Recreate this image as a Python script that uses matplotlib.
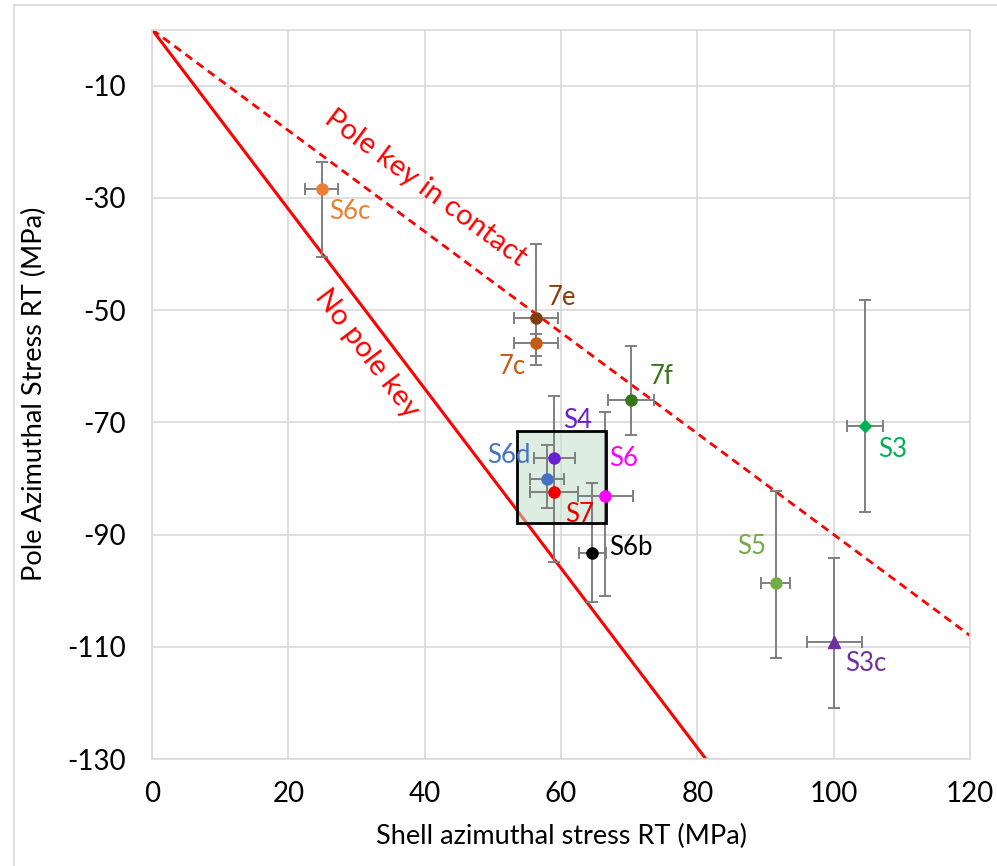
import numpy as np
import matplotlib.pyplot as plt
from matplotlib.patches import Rectangle
from matplotlib.lines import Line2D

plt.rcParams['font.family'] = ['Lato', 'DejaVu Sans']
plt.rcParams['axes.unicode_minus'] = False

# sample data
names = ['S6c', '7e', '7c', '7f', 'S4', 'S6d', 'S6', 'S7', 'S6b', 'S3', 'S5', 'S3c']
shell = [24.9, 56.3, 56.3, 70.3, 59.0, 57.9, 66.5, 59.0, 64.6, 104.6, 91.5, 100.1]
pole = [-28.4, -51.4, -55.9, -66.0, -76.3, -80.1, -83.1, -82.4, -93.3, -70.7, -98.6, -109.1]
shell_err = [2.4, 3.2, 3.2, 3.4, 3.0, 2.5, 4.0, 3.5, 2.0, 2.6, 2.1, 4.0]
pole_err_low = [12.2, 8.4, 2.3, 6.3, 18.6, 5.2, 17.9, 0.0, 8.7, 15.3, 13.4, 11.9]
pole_err_up = [4.8, 13.2, 1.7, 9.6, 11.0, 6.0, 15.0, 0.0, 12.4, 22.5, 16.4, 15.0]
colors = ['#ED7D31', '#843C0C', '#C55A11', '#38761D', '#6A1FD0', '#4472C4',
          '#FF00FF', '#EE0000', '#000000', '#00B050', '#70AD47', '#7030A0']
markers = ['o'] * 9 + ['D', 'o', '^']

# limit lines (slopes)
slope_no_key = -1.6
slope_contact = -0.9

# highlighted region
box_x = [53.5, 66.6]
box_y = [-88.0, -71.6]

# label offsets in points (dx, dy)
label_off = {'S6c': (20, -16), '7e': (19, 15), '7c': (-17, -17), '7f': (22, 17),
             'S4': (17, 27), 'S6d': (-27, 17), 'S6': (13, 27), 'S7': (18, -16),
             'S6b': (28, 4), 'S3': (20, -17), 'S5': (-17, 26), 'S3c': (23, -16)}

fig = plt.figure(figsize=(9.97, 8.66), dpi=100)
ax = fig.add_axes([152 / 997, 1 - 759 / 866, 818 / 997, 729.5 / 866])

ax.set_xlim(0, 120)
ax.set_ylim(-130, 0)
ax.set_xticks(np.arange(0, 121, 20))
ax.set_yticks(np.arange(-130, -9, 20))
ax.grid(True, color='#D9D9D9', linewidth=1.2, zorder=0)
ax.set_axisbelow(True)
for s in ax.spines.values():
    s.set_color('#D9D9D9')
    s.set_linewidth(1.2)
ax.tick_params(length=0, labelsize=20, colors='#000000')
ax.tick_params(axis='y', pad=19)
ax.tick_params(axis='x', pad=16)

xs = np.array([0, 120])
ax.plot(xs, slope_no_key * xs, color='#FF0000', lw=2.2, zorder=2)
ax.plot(xs, slope_contact * xs, color='#FF0000', lw=2.0, ls=(0, (3, 2)), zorder=2)

ax.add_patch(Rectangle((box_x[0], box_y[0]), box_x[1] - box_x[0], box_y[1] - box_y[0],
                       facecolor='#C3DFCB', alpha=0.55, edgecolor='none', zorder=2))
ax.add_patch(Rectangle((box_x[0], box_y[0]), box_x[1] - box_x[0], box_y[1] - box_y[0],
                       facecolor='none', edgecolor='black', lw=2, zorder=5))

for i, n in enumerate(names):
    ax.errorbar(shell[i], pole[i], xerr=shell_err[i],
                yerr=[[pole_err_low[i]], [pole_err_up[i]]],
                fmt='none', ecolor='#7F7F7F', elinewidth=1.4, capsize=4, capthick=1.4, zorder=3)
    ms = 8 if markers[i] == 'o' else (6 if markers[i] == 'D' else 9)
    ax.plot(shell[i], pole[i], marker=markers[i], ms=ms, color=colors[i], ls='none', zorder=6)
    ax.annotate(n, (shell[i], pole[i]), xytext=label_off[n], textcoords='offset points',
                ha='center', va='center', fontsize=18.5, color=colors[i], zorder=7)

ax.text(40.1, -28.3, 'Pole key in contact', color='#FF0000', fontsize=21,
        rotation=np.degrees(np.arctan(slope_contact)), transform_rotates_text=True,
        rotation_mode='anchor', ha='center', va='center')
ax.text(31.6, -57.7, 'No pole key', color='#FF0000', fontsize=21,
        rotation=np.degrees(np.arctan(slope_no_key)), transform_rotates_text=True,
        rotation_mode='anchor', ha='center', va='center')

ax.set_xlabel('Shell azimuthal stress RT (MPa)', fontsize=19.5, labelpad=12)
ax.set_ylabel('Pole Azimuthal Stress RT (MPa)', fontsize=19.5, labelpad=14)

# outer chart border (cropped)
fig.add_artist(Line2D([14 / 997, 14 / 997], [0, 1 - 5 / 866], color='#D9D9D9', lw=1.2))
fig.add_artist(Line2D([14 / 997, 1], [1 - 5 / 866, 1 - 5 / 866], color='#D9D9D9', lw=1.2))

fig.savefig('out.png', dpi=100)
